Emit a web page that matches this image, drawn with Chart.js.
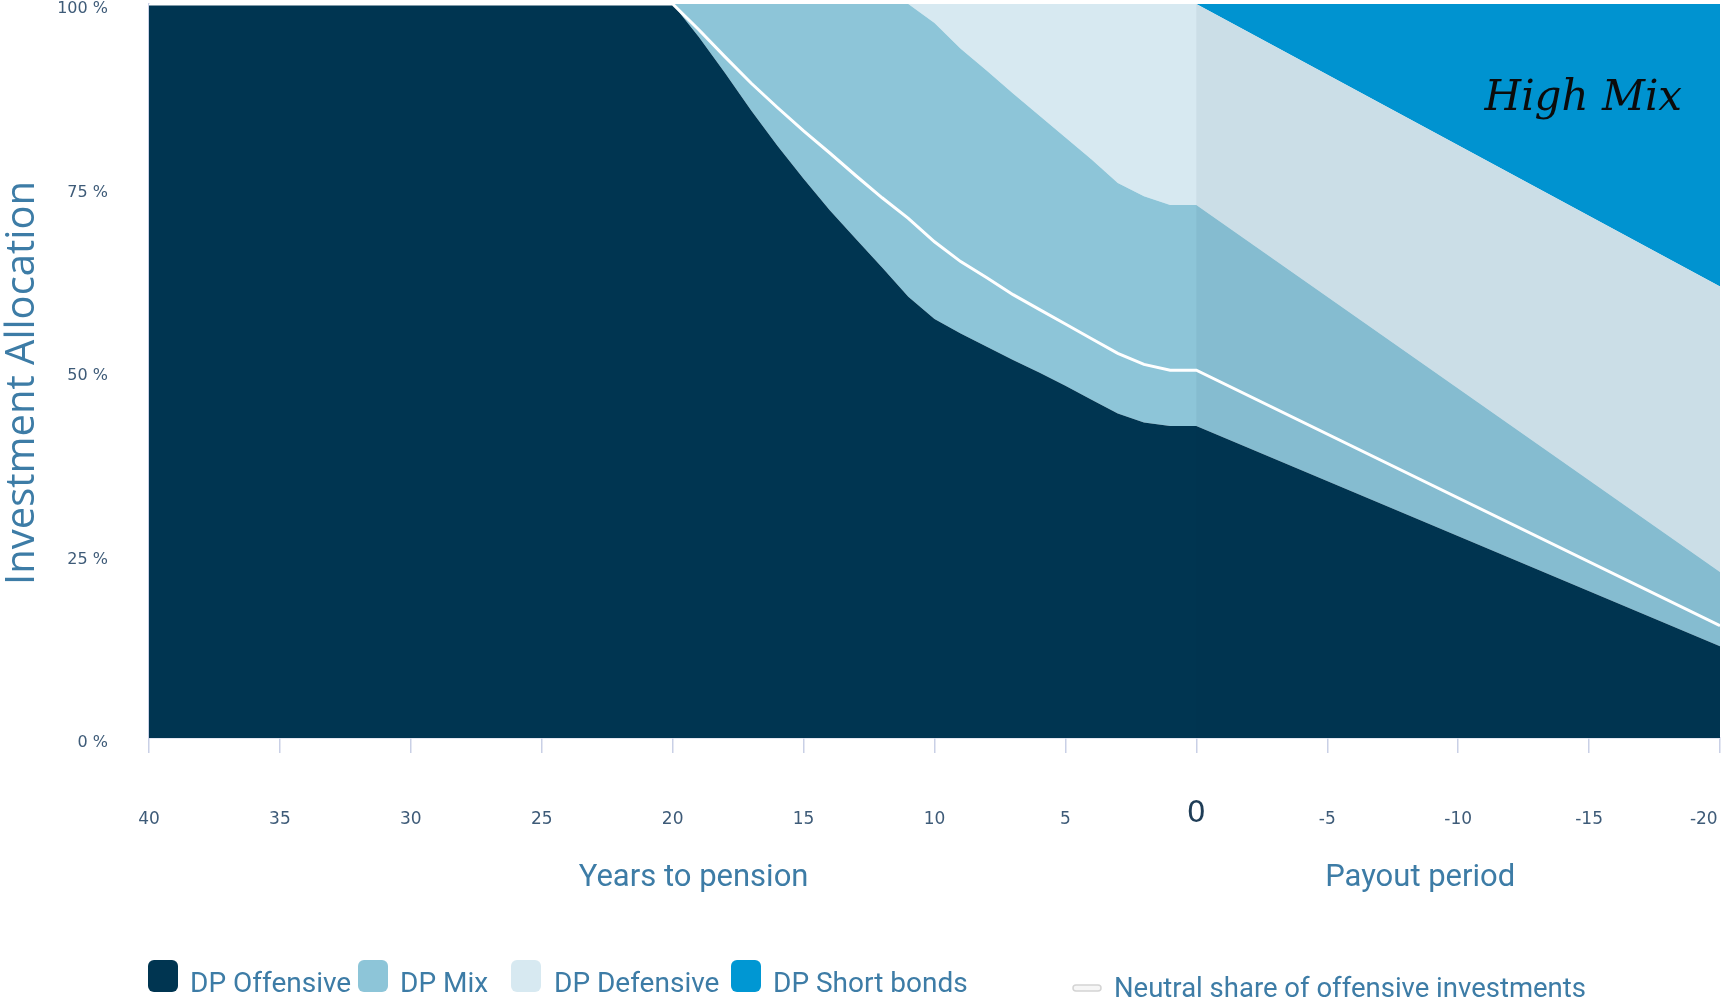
<!DOCTYPE html>
<html>
<head>
<meta charset="utf-8">
<script src="https://cdn.jsdelivr.net/npm/chart.js@4.4.1/dist/chart.umd.min.js"></script>
<style>
  html, body { margin: 0; padding: 0; background: #fff; }
  #wrap { position: relative; width: 1721px; height: 1001px; }
</style>
</head>
<body>
<div id="wrap"><canvas id="chart"></canvas></div>
<script>
// years to pension (positive) and payout period (negative)
const years = [40, 20, 19, 18, 17, 16, 15, 14, 13, 12, 11, 10, 9, 8, 7, 6, 5, 4, 3, 2, 1, 0, -20];

// share of each fund in %
const offensive  = [100, 100, 95.5, 90.6, 85.5, 80.7, 76.2, 71.9, 68.0, 64.1, 60.1, 57.1, 55.1, 53.3, 51.5, 49.8, 48.0, 46.1, 44.2, 43.0, 42.5, 42.5, 12.5];
const mix        = [0, 0, 4.5, 9.4, 14.5, 19.3, 23.8, 28.1, 32.0, 35.9, 39.9, 40.3, 38.8, 37.6, 36.3, 35.0, 33.8, 32.7, 31.4, 30.8, 30.1, 30.1, 10.1];
const defensive  = [0, 0, 0, 0, 0, 0, 0, 0, 0, 0, 0, 2.6, 6.1, 9.1, 12.2, 15.2, 18.2, 21.2, 24.4, 26.2, 27.4, 27.4, 38.9];
const shortBonds = [0, 0, 0, 0, 0, 0, 0, 0, 0, 0, 0, 0, 0, 0, 0, 0, 0, 0, 0, 0, 0, 0, 38.5];
// neutral share of offensive investments (white line)
const neutral    = [100, 100, 96.5, 92.8, 89.2, 85.9, 82.7, 79.7, 76.6, 73.6, 70.8, 67.6, 64.9, 62.7, 60.4, 58.4, 56.4, 54.4, 52.4, 50.9, 50.1, 50.1, 15.3];

const yTicks = [0, 25, 50, 75, 100];
const legendLabels = ['DP Offensive', 'DP Mix', 'DP Defensive', 'DP Short bonds'];
const neutralLabel = 'Neutral share of offensive investments';

const COLORS = ['#003551', '#8dc5d8', '#d7e9f1', '#009ad8'];
const pts = arr => arr.map((v, i) => ({ x: years[i], y: v }));
const isZero = c => !!(c && c.tick && c.tick.value === 0);

function area(label, data, color, fill) {
  return { label, data: pts(data), backgroundColor: color, borderColor: 'transparent', borderWidth: 0,
    pointRadius: 0, fill, tension: 0, stack: 'funds' };
}

// extra drawing: payout shading, titles, label, legend
const extras = {
  id: 'extras',
  afterDatasetDraw(chart, args) {
    if (args.index !== 0) return;
    const { ctx, chartArea: a, scales: { x } } = chart;
    const x0 = x.getPixelForValue(0);
    ctx.save();
    ctx.fillStyle = 'rgba(0, 35, 70, 0.055)';
    ctx.fillRect(x0, a.top, a.right - x0, a.bottom - a.top);
    ctx.restore();
  },
  afterDraw(chart) {
    const { ctx, scales: { x } } = chart;
    ctx.save();
    // High Mix label
    ctx.fillStyle = '#0b0b0b';
    ctx.font = 'italic 42px "DejaVu Serif"';
    ctx.textAlign = 'right';
    ctx.textBaseline = 'alphabetic';
    ctx.fillText('High Mix', 1682, 110);

    // sub titles under x axis
    ctx.fillStyle = '#3d7ca6';
    ctx.font = '31px Roboto';
    ctx.textAlign = 'center';
    ctx.fillText('Years to pension', x.getPixelForValue(19.2), 886);
    ctx.fillText('Payout period', x.getPixelForValue(-8.55), 886);

    // y title
    ctx.save();
    ctx.translate(34, 383);
    ctx.rotate(-Math.PI / 2);
    ctx.font = '40px "Open Sans"';
    ctx.fillText('Investment Allocation', 0, 0);
    ctx.restore();

    // legend
    const boxX = [148, 358, 511, 731];
    const txtX = [190, 400, 554, 773];
    ctx.textAlign = 'left';
    ctx.font = '28px Roboto';
    legendLabels.forEach((lab, i) => {
      ctx.fillStyle = i === 3 ? '#0097d3' : COLORS[i];
      ctx.beginPath();
      ctx.roundRect(boxX[i], 960, 30, 32, 6);
      ctx.fill();
      ctx.fillStyle = '#3d7ca6';
      ctx.fillText(lab, txtX[i], 992);
    });
    ctx.beginPath();
    ctx.roundRect(1073, 985, 28, 6, 3);
    ctx.fillStyle = '#f6f6f6';
    ctx.fill();
    ctx.strokeStyle = '#d4d4d4';
    ctx.lineWidth = 1.5;
    ctx.stroke();
    ctx.fillStyle = '#3d7ca6';
    ctx.font = '27.5px Roboto';
    ctx.fillText(neutralLabel, 1114, 997);
    ctx.restore();
  }
};

new Chart(document.getElementById('chart'), {
  type: 'line',
  data: {
    datasets: [
      area(legendLabels[0], offensive, COLORS[0], 'origin'),
      area(legendLabels[1], mix, COLORS[1], '-1'),
      area(legendLabels[2], defensive, COLORS[2], '-1'),
      area(legendLabels[3], shortBonds, COLORS[3], '-1'),
      { label: neutralLabel, data: pts(neutral), borderColor: '#ffffff', borderWidth: 3, pointRadius: 0,
        fill: false, tension: 0, stack: 'neutral', order: -1 }
    ]
  },
  options: {
    responsive: true,
    maintainAspectRatio: false,
    animation: false,
    layout: { padding: { top: 4, right: 1, left: 0, bottom: 0 } },
    plugins: { legend: { display: false }, tooltip: { enabled: false } },
    scales: {
      x: {
        type: 'linear',
        reverse: true,
        min: -20,
        max: 40,
        afterFit: s => { s.height = 263; s.paddingLeft = 0; s.paddingRight = 0; },
        border: { display: true, color: '#c9d0e6', width: 1.5 },
        grid: { display: true, drawOnChartArea: false, drawTicks: true, tickLength: 15, color: '#c9d0e6', lineWidth: 1.5 },
        ticks: {
          stepSize: 5,
          padding: 56,
          maxRotation: 0,
          // last label sits at the canvas edge, pad it so it stays visible
          callback: v => v === -20 ? '-20\u2007\u2007\u2007' : String(v),
          color: c => isZero(c) ? '#1f3d57' : '#3e5b78',
          font: c => isZero(c)
            ? { family: 'DejaVu Sans', size: 30, lineHeight: 0.35 }
            : { family: 'DejaVu Sans', size: 17 }
        }
      },
      y: {
        stacked: true,
        min: 0,
        max: 100,
        afterFit: s => { s.width = 149; s.paddingTop = 0; s.paddingBottom = 0; },
        afterBuildTicks: s => { s.ticks = yTicks.map(v => ({ value: v })); },
        border: { display: true, color: '#c9d0e6', width: 1.5 },
        grid: { display: false, drawTicks: false },
        ticks: {
          padding: 41,
          labelOffset: 5,
          color: '#3e5b78',
          font: { family: 'DejaVu Sans', size: 16 },
          callback: v => v + ' %'
        }
      }
    }
  },
  plugins: [extras]
});
</script>
</body>
</html>
